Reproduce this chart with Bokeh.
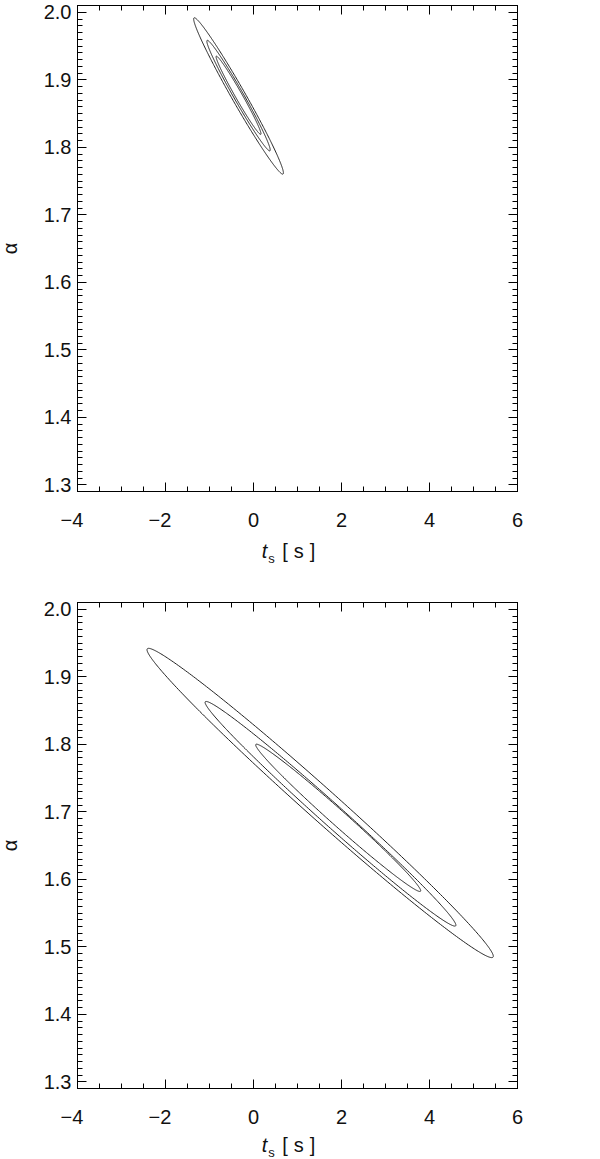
import numpy as np
from bokeh.plotting import figure
from bokeh.layouts import column
from bokeh.models import (FixedTicker, LinearAxis, PrintfTickFormatter,
                          Range1d, ColumnDataSource, Div)
from bokeh.embed import file_html
from bokeh.resources import INLINE

# ---- axes ---------------------------------------------------------------
x_lo, x_hi = -4.0, 6.0
y_lo, y_hi = 1.29, 2.01
x_major = [-4, -2, 0, 2, 4, 6]
x_minor = [-4 + 0.5 * i for i in range(21)]
x_tick_labels = {-4: "\u22124\u2007", -2: "\u22122\u2007", 0: "0", 2: "2", 4: "4", 6: "6"}
y_major = [1.3, 1.4, 1.5, 1.6, 1.7, 1.8, 1.9, 2.0]
y_minor = [round(1.29 + 0.01 * i, 2) for i in range(73)]
x_title = "<i>t</i><sub style='font-size:13px'>s</sub>&nbsp;[&thinsp;s&thinsp;]"
y_title = "\u03b1"

# ---- contours (68 %, 90 %, 99 %): leftmost point, rightmost point,
#      half vertical thickness at the centre -------------------------------
top_left_t = [-0.85, -1.06, -1.36]
top_left_a = [1.934, 1.957, 1.990]
top_right_t = [0.17, 0.38, 0.68]
top_right_a = [1.820, 1.796, 1.762]
top_half = [0.0103, 0.0149, 0.0206]

bot_left_t = [0.05, -1.10, -2.42]
bot_left_a = [1.799, 1.862, 1.940]
bot_right_t = [3.80, 4.60, 5.45]
bot_right_a = [1.583, 1.532, 1.486]
bot_half = [0.0154, 0.0216, 0.0309]

FONT = "Liberation Sans"


def contour_xy(xl, yl, xr, yr, h, n=361):
    th = np.linspace(0, 2 * np.pi, n)
    cx, cy = (xl + xr) / 2, (yl + yr) / 2
    ax, ay = (xr - xl) / 2, (yr - yl) / 2
    return list(cx + ax * np.cos(th)), list(cy + ay * np.cos(th) + h * np.sin(th))


def style_axis(ax, ticks, show_labels):
    ax.axis_line_color = "black"
    ax.axis_line_width = 1
    ax.major_tick_in = 9
    ax.major_tick_out = 0
    ax.minor_tick_in = 5
    ax.minor_tick_out = 0
    ax.major_tick_line_color = "black"
    ax.minor_tick_line_color = "black"
    if show_labels:
        ax.major_label_text_font = FONT
        ax.major_label_text_font_size = "20px"
        ax.major_label_text_color = "#111111"
    else:
        ax.major_label_overrides = {t: "" for t in ticks}
        ax.major_label_text_font_size = "1px"
        ax.major_label_standoff = 0


def make_panel(lt, la, rt, ra, hh, top_border):
    p = figure(frame_width=440, frame_height=486,
               x_range=Range1d(x_lo, x_hi), y_range=Range1d(y_lo, y_hi),
               output_backend="svg", toolbar_location=None,
               x_axis_location=None, y_axis_location=None,
               min_border_left=69, min_border_right=15,
               min_border_top=top_border, min_border_bottom=20)
    p.outline_line_color = "black"
    p.background_fill_color = "white"
    p.border_fill_color = "white"
    p.grid.visible = False

    xt = FixedTicker(ticks=x_major, minor_ticks=x_minor)
    yt = FixedTicker(ticks=y_major, minor_ticks=y_minor)

    bottom = LinearAxis(ticker=xt)
    style_axis(bottom, x_major, True)
    bottom.major_label_overrides = x_tick_labels
    bottom.major_label_standoff = 17
    p.add_layout(bottom, "below")

    top = LinearAxis(ticker=xt)
    style_axis(top, x_major, False)
    p.add_layout(top, "above")

    left = LinearAxis(ticker=yt, formatter=PrintfTickFormatter(format="%.1f"))
    style_axis(left, y_major, True)
    left.major_label_standoff = 6
    left.axis_label = y_title
    left.axis_label_text_font = FONT
    left.axis_label_text_font_style = "normal"
    left.axis_label_text_font_size = "20px"
    left.axis_label_text_color = "#111111"
    left.axis_label_standoff = 20
    p.add_layout(left, "left")

    right = LinearAxis(ticker=yt)
    style_axis(right, y_major, False)
    p.add_layout(right, "right")

    xs, ys = [], []
    for i in range(3):
        cx, cy = contour_xy(lt[i], la[i], rt[i], ra[i], hh[i])
        xs.append(cx)
        ys.append(cy)
    src = ColumnDataSource(dict(xs=xs, ys=ys))
    p.multi_line("xs", "ys", source=src, line_color="#222222", line_width=1)
    return p


def make_title(h):
    return Div(text=x_title, width=578, height=h,
               styles={"text-align": "center", "font-family": FONT,
                       "font-size": "20px", "line-height": "%dpx" % h,
                       "color": "#111111", "overflow": "visible",
                       "letter-spacing": "1px"})


p1 = make_panel(top_left_t, top_left_a, top_right_t, top_right_a, top_half, 5)
d1 = make_title(26)
p2 = make_panel(bot_left_t, bot_left_a, bot_right_t, bot_right_a, bot_half, 33)
d2 = make_title(20)

layout = column(p1, d1, p2, d2, spacing=0, styles={"margin-left": "-5px"})
open("out.html", "w").write(file_html(layout, INLINE))
